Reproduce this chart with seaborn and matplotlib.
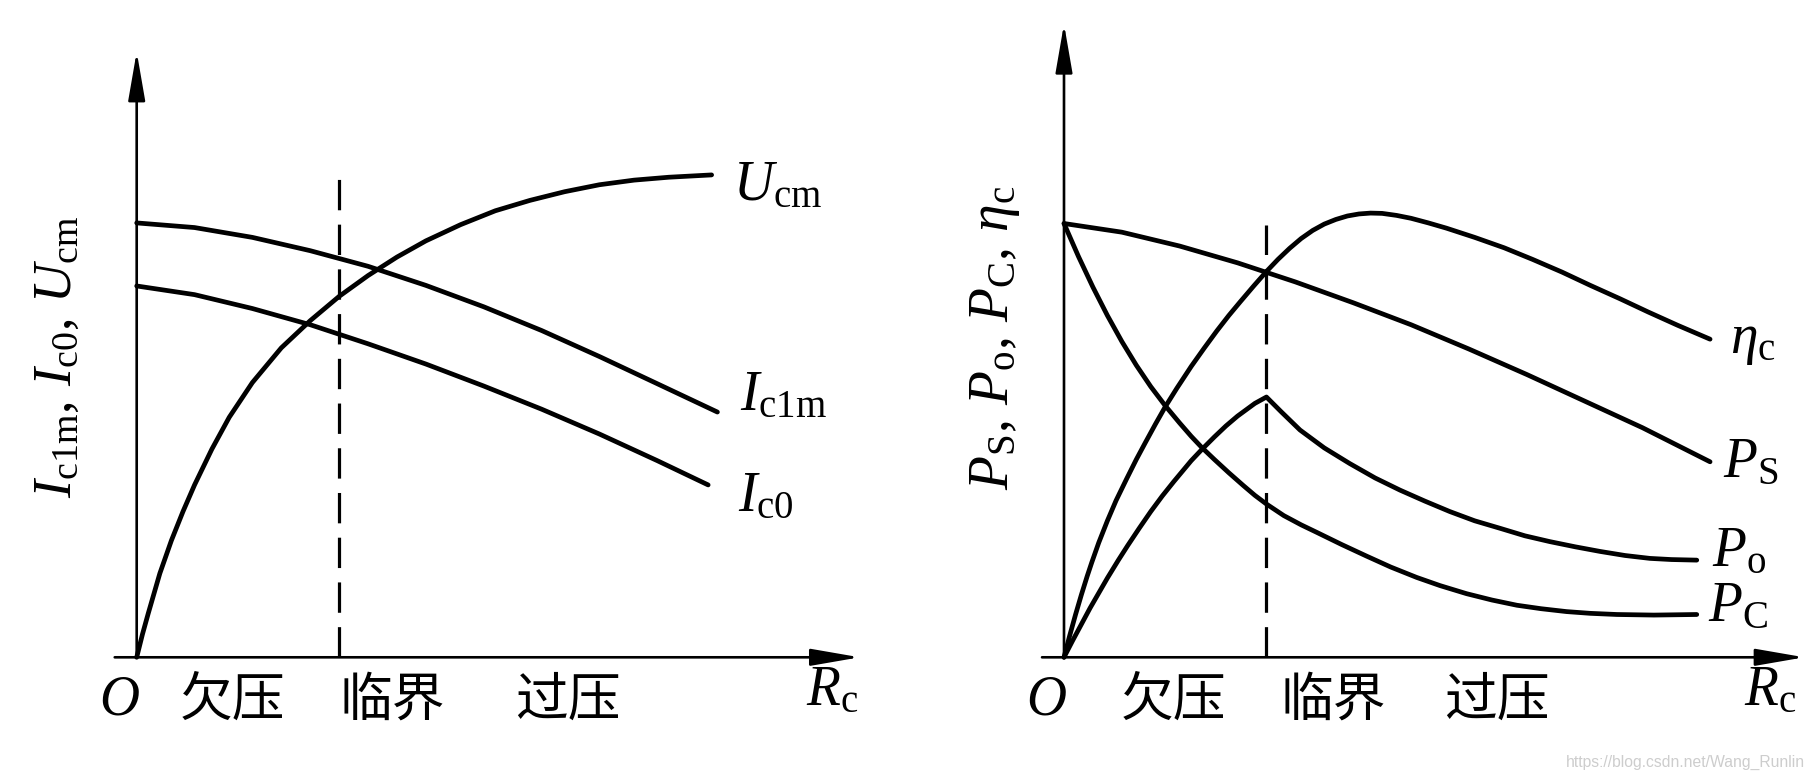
import numpy as np
import pandas as pd
import matplotlib
matplotlib.use("Agg")
import matplotlib.pyplot as plt
import seaborn as sns

# ---- data (arbitrary units) ----
# left panel: U_cm, I_c1m, I_c0 against R_c
ucm_x = [0, 0.1, 0.2, 0.4, 0.6, 0.8, 1.0, 1.3, 1.6, 2.0, 2.5, 3.0, 3.5, 4.0, 4.5,
         5.0, 5.6, 6.2, 6.8, 7.4, 8.0, 8.6, 9.2, 9.94]
ucm_y = [0, 0.4, 0.76, 1.45, 2.02, 2.52, 2.98, 3.6, 4.15, 4.75, 5.35, 5.82, 6.24, 6.6,
         6.92, 7.2, 7.48, 7.72, 7.9, 8.05, 8.17, 8.25, 8.3, 8.34]
ic1m_x = [0, 1, 2, 3, 4, 5, 6, 7, 8, 9, 10.04]
ic1m_y = [7.51, 7.43, 7.26, 7.03, 6.76, 6.43, 6.06, 5.65, 5.2, 4.73, 4.24]
ic0_x = [0, 1, 2, 3, 4, 5, 6, 7, 8, 9, 9.88]
ic0_y = [6.42, 6.27, 6.03, 5.75, 5.42, 5.07, 4.69, 4.29, 3.86, 3.4, 2.98]
crit_left = 3.5

# right panel: eta_c, P_S, P_o, P_C against R_c
eta_x = [0, 0.1, 0.2, 0.3, 0.4, 0.48, 0.6, 0.75, 0.9, 1.08, 1.25, 1.4, 1.58, 1.75,
         1.95, 2.2, 2.42, 2.64, 2.85, 3.05, 3.28, 3.5, 3.7, 3.9, 4.1, 4.3, 4.5, 4.7,
         4.9, 5.1, 5.3, 5.5, 5.75, 6.0, 6.3, 6.61, 7.1, 7.61, 8.1, 8.61, 9.1, 9.61,
         10.1, 10.61, 11.17]
eta_y = [0, 0.38, 0.74, 1.08, 1.4, 1.64, 1.98, 2.36, 2.71, 3.08, 3.42, 3.7, 4.03, 4.33,
         4.65, 5.03, 5.34, 5.64, 5.91, 6.15, 6.42, 6.67, 6.88, 7.07, 7.24, 7.38, 7.49,
         7.57, 7.63, 7.665, 7.68, 7.675, 7.64, 7.59, 7.51, 7.42, 7.26, 7.08, 6.88,
         6.66, 6.43, 6.2, 5.97, 5.74, 5.5]
ps_x = [0, 1, 2, 3, 4, 5, 6, 7, 8, 9, 10, 11.17]
ps_y = [7.5, 7.35, 7.11, 6.82, 6.49, 6.13, 5.75, 5.33, 4.89, 4.43, 3.97, 3.38]
po_x = [0, 0.15, 0.3, 0.45, 0.6, 0.75, 0.94, 1.1, 1.3, 1.5, 1.7, 1.9, 2.05, 2.2,
        2.38, 2.6, 2.8, 3.0, 3.15, 3.3, 3.5, 3.75, 4.08, 4.5, 4.94, 5.38, 5.81, 6.24,
        6.67, 7.1, 7.54, 7.97, 8.4, 8.84, 9.27, 9.7, 10.13, 10.5, 10.94]
po_y = [0, 0.29, 0.57, 0.85, 1.11, 1.37, 1.68, 1.93, 2.23, 2.52, 2.79, 3.04, 3.22,
        3.4, 3.59, 3.81, 4.0, 4.17, 4.28, 4.39, 4.5, 4.25, 3.93, 3.62, 3.35, 3.1,
        2.89, 2.7, 2.52, 2.36, 2.23, 2.1, 2.0, 1.91, 1.83, 1.76, 1.71, 1.69, 1.68]
pc_x = [0, 0.25, 0.5, 0.75, 1.0, 1.25, 1.5, 1.75, 2.0, 2.2, 2.38, 2.6, 2.85, 3.1,
        3.3, 3.5, 3.8, 4.1, 4.37, 4.8, 5.23, 5.65, 6.1, 6.5, 6.96, 7.4, 7.83, 8.25,
        8.69, 9.1, 9.56, 10.2, 10.94]
pc_y = [7.5, 6.93, 6.4, 5.91, 5.46, 5.05, 4.68, 4.35, 4.05, 3.82, 3.63, 3.42, 3.19,
        2.97, 2.8, 2.65, 2.45, 2.29, 2.16, 1.95, 1.75, 1.56, 1.38, 1.24, 1.1, 0.99,
        0.9, 0.84, 0.79, 0.76, 0.74, 0.73, 0.74]
crit_right = 3.5

region_labels = ["欠压", "临界", "过压"]

sns.set_style("white")
plt.rcParams["font.family"] = ["Noto Sans CJK SC", "DejaVu Sans"]
plt.rcParams["text.color"] = "black"
plt.rcParams["mathtext.fontset"] = "custom"
plt.rcParams["mathtext.rm"] = "Liberation Serif"
plt.rcParams["mathtext.it"] = "Liberation Serif:italic"

fig = plt.figure(figsize=(18.14, 7.8), dpi=100)
unit = 57.84  # px per data unit
ax1 = fig.add_axes([0, 0, 0.5, 1])
ax2 = fig.add_axes([0.5, 0, 0.5, 1])

LW = 3.4
FS = 40
for ax, ox in [(ax1, 136.7), (ax2, 157.0)]:
    ax.set_xlim(-ox / unit, (907 - ox) / unit)
    ax.set_ylim(-122.7 / unit, (780 - 122.7) / unit)
    ax.axis("off")
    ax.patch.set_alpha(0)


def draw_axes(ax, xend, yend, crit, crit_top, xs, rx):
    arrow = dict(arrowstyle="-|>,head_length=1.5,head_width=0.26", color="black",
                 lw=1.9, shrinkA=0, shrinkB=0, mutation_scale=20)
    ax.annotate("", xy=(xend, 0), xytext=(-0.38, 0), arrowprops=arrow)
    ax.annotate("", xy=(0, yend), xytext=(0, 0), arrowprops=arrow)
    ax.plot([crit, crit], [0, crit_top], color="black", lw=2.3, ls=(0, (9.5, 4.5)))
    ax.text(-0.3, -0.72, "$O$", fontsize=FS, ha="center", va="center")
    for x, lab in zip(xs, region_labels):
        ax.text(x, -0.74, lab, fontsize=38, ha="center", va="center")
    ax.text(rx, -0.82, r"$R_{\mathrm{c}}$", fontsize=FS, ha="left", va="baseline")


def curve(ax, x, y):
    df = pd.DataFrame({"x": x, "y": y})
    sns.lineplot(data=df, x="x", y="y", ax=ax, color="black", lw=LW,
                 sort=False, estimator=None)


# left panel
draw_axes(ax1, 12.5, 10.47, crit_left, 8.38, [1.66, 4.42, 7.45], 11.58)
curve(ax1, ucm_x, ucm_y)
curve(ax1, ic1m_x, ic1m_y)
curve(ax1, ic0_x, ic0_y)
ax1.text(10.31, 7.91, r"$U_{\mathrm{cm}}$", fontsize=FS, ha="left", va="baseline")
ax1.text(10.43, 4.28, r"$I_{\mathrm{c1m}}$", fontsize=FS, ha="left", va="baseline")
ax1.text(10.4, 2.52, r"$I_{\mathrm{c0}}$", fontsize=FS, ha="left", va="baseline")
ax1.text(-1.41, 5.2, r"$I_{\mathrm{c1m}},\, I_{\mathrm{c0}},\, U_{\mathrm{cm}}$",
         fontsize=39, rotation=90, ha="center", va="center")

# right panel
draw_axes(ax2, 12.8, 10.95, crit_right, 7.48, [1.9, 4.66, 7.49], 11.76)
curve(ax2, eta_x, eta_y)
curve(ax2, ps_x, ps_y)
curve(ax2, po_x, po_y)
curve(ax2, pc_x, pc_y)
ax2.text(11.51, 5.26, r"$\eta_{\mathrm{c}}$", fontsize=FS, ha="left", va="baseline")
ax2.text(11.4, 3.12, r"$P_{\mathrm{S}}$", fontsize=FS, ha="left", va="baseline")
ax2.text(11.2, 1.57, r"$P_{\mathrm{o}}$", fontsize=FS, ha="left", va="baseline")
ax2.text(11.14, 0.62, r"$P_{\mathrm{C}}$", fontsize=FS, ha="left", va="baseline")
ax2.text(-1.23, 5.52,
         r"$P_{\mathrm{S}},\, P_{\mathrm{o}},\, P_{\mathrm{C}},\, \eta_{\mathrm{c}}$",
         fontsize=40, rotation=90, ha="center", va="center")

fig.text(0.995, 0.023, "https://blog.csdn.net/Wang_Runlin", fontsize=11.3,
         color="#cdcdcd", ha="right", va="center", family=["Liberation Sans"])

fig.savefig("out.png", dpi=100)
